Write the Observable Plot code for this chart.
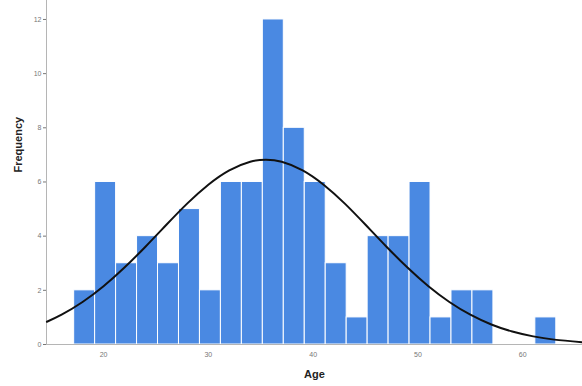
<!DOCTYPE html>
<html>
<head>
<meta charset="utf-8">
<script src="https://cdn.jsdelivr.net/npm/d3@7"></script>
<script src="https://cdn.jsdelivr.net/npm/@observablehq/plot@0.6"></script>
<style>
  html, body { margin: 0; padding: 0; background: #fff; }
  #chart svg { display: block; }
</style>
</head>
<body>
<div id="chart"></div>
<script>
// Histogram bins (lower edge, age) and counts
const binStarts = [17.2, 19.2, 21.2, 23.2, 25.2, 27.2, 29.2, 31.2, 33.2, 35.2, 37.2, 39.2, 41.2, 43.2, 45.2, 47.2, 49.2, 51.2, 53.2, 55.2, 61.2];
const counts    = [2,    6,    3,    4,    3,    5,    2,    6,    6,    12,   8,    6,    3,    1,    4,    4,    6,    1,    2,    2,    1];
const binWidth = 2;

// Fitted normal curve (age, frequency)
const curveAge  = [14.6, 16, 18, 20, 22, 24, 26, 28, 30, 32, 34, 35.5, 37, 39, 41, 43, 45, 47, 49, 51, 53, 55, 57, 59, 61, 63, 65.7];
const curveFreq = [0.84, 1.10, 1.57, 2.15, 2.84, 3.61, 4.42, 5.21, 5.90, 6.43, 6.75, 6.82, 6.75, 6.43, 5.90, 5.21, 4.42, 3.61, 2.84, 2.15, 1.57, 1.10, 0.74, 0.48, 0.30, 0.18, 0.085];

const xTicks = [20, 30, 40, 50, 60];
const yTicks = [0, 2, 4, 6, 8, 10, 12];

const bars = binStarts.map((s, i) => ({x1: s, x2: s + binWidth, count: counts[i]}));
const curve = curveAge.map((a, i) => ({age: a, freq: curveFreq[i]}));

const xDomain = [14.56, 65.7];

const chart = Plot.plot({
  width: 582,
  height: 386,
  marginLeft: 46,
  marginRight: 0,
  marginTop: 0,
  marginBottom: 42,
  style: {fontFamily: "'Liberation Sans', Arial, sans-serif", background: "#fff"},
  x: {domain: xDomain},
  y: {domain: [0, 12.7]},
  marks: [
    Plot.rectY(bars, {x1: "x1", x2: "x2", y: "count", fill: "#4a89e2", stroke: "#ffffff", strokeWidth: 1}),
    Plot.ruleY([0], {stroke: "#b5b5b5"}),
    Plot.ruleX([xDomain[0]], {stroke: "#b5b5b5"}),
    Plot.line(curve, {x: "age", y: "freq", curve: "natural", stroke: "#111", strokeWidth: 2}),
    Plot.axisY({ticks: yTicks, tickSize: 3, tickPadding: 2, fontSize: 7, color: "#777", label: null}),
    Plot.axisX({ticks: xTicks, tickSize: 0, tickPadding: 8, fontSize: 7, color: "#777", label: null}),
    Plot.text(["Frequency"], {text: d => d, frameAnchor: "left", dx: -28, rotate: -90, fontWeight: "bold", fontSize: 11, fill: "#222"}),
    Plot.text(["Age"], {text: d => d, frameAnchor: "bottom", dy: 33, fontWeight: "bold", fontSize: 11, fill: "#222"})
  ]
});

document.getElementById("chart").append(chart);
</script>
</body>
</html>
